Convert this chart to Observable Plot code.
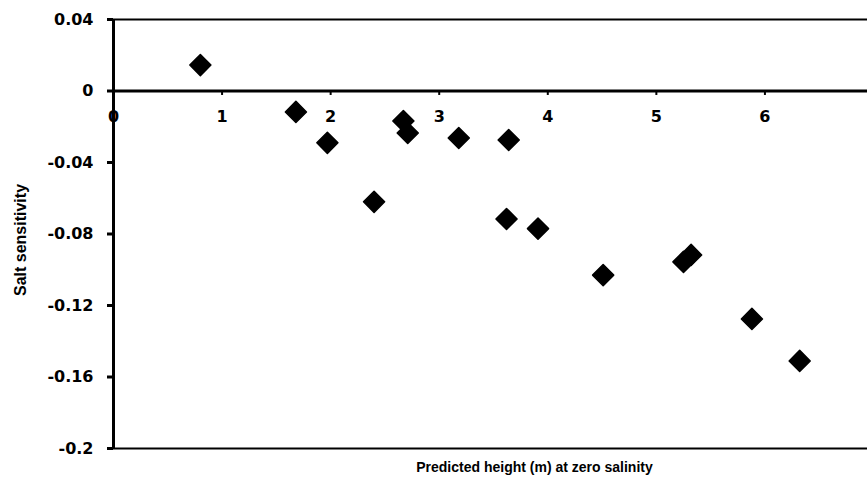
<!DOCTYPE html>
<html>
<head>
<meta charset="utf-8">
<script src="https://cdn.jsdelivr.net/npm/d3@7"></script>
<script src="https://cdn.jsdelivr.net/npm/@observablehq/plot@0.6"></script>
<style>
  html, body { margin: 0; padding: 0; background: white; }
  #wrap { width: 867px; height: 485px; overflow: hidden; }
</style>
</head>
<body>
<div id="wrap"></div>
<script>
// Data
const heights = [0.80, 1.68, 1.97, 2.40, 2.67, 2.71, 3.18, 3.62, 3.64, 3.91, 4.51, 5.25, 5.32, 5.88, 6.32];
const sensitivity = [0.0145, -0.0117, -0.029, -0.062, -0.0168, -0.0235, -0.0263, -0.0716, -0.0274, -0.077, -0.103, -0.0956, -0.0917, -0.1275, -0.151];
const xTicks = [0, 1, 2, 3, 4, 5, 6, 7];
const yTicks = [0.04, 0, -0.04, -0.08, -0.12, -0.16, -0.2];
const xLabel = "Predicted height (m) at zero salinity";
const yLabel = "Salt sensitivity";

const points = heights.map((h, i) => ({h, s: sensitivity[i]}));
const tickFont = {fontFamily: "DejaVu Sans", fontWeight: "bold", fontSize: 16};

const chart = Plot.plot({
  width: 880,
  height: 485,
  marginLeft: 113,
  marginRight: 7,
  marginTop: 19,
  marginBottom: 37,
  style: "max-width: none; background: white; color: black;",
  x: {domain: [0, 7], axis: null},
  y: {domain: [-0.2, 0.04], axis: null},
  marks: [
    Plot.ruleY([yTicks[0], yTicks[yTicks.length - 1]], {stroke: "black", strokeWidth: 2}),
    Plot.ruleY([0], {stroke: "black", strokeWidth: 3}),
    Plot.ruleX([0], {stroke: "black", strokeWidth: 3}),
    Plot.axisY(yTicks, {
      tickSize: 6, tickPadding: 14, strokeWidth: 3, label: null,
      tickFormat: d => String(+d.toFixed(2)),
      ...tickFont
    }),
    Plot.ruleX(xTicks.filter(d => d > 0), {x: d => d, y1: 0, y2: -0.0025, stroke: "black", strokeWidth: 2}),
    Plot.text(xTicks, {x: d => d, y: () => 0, dy: 26, text: d => String(d), fill: "black", ...tickFont}),
    Plot.dot(points, {
      x: "h", y: "s", symbol: "diamond2", r: 9.5,
      fill: "black", stroke: "black", strokeWidth: 1.5, strokeLinejoin: "round"
    }),
    Plot.text([xLabel], {
      text: d => d, frameAnchor: "bottom", lineAnchor: "middle", textAnchor: "middle", dx: 41, dy: 19,
      fontFamily: "Liberation Sans", fontWeight: "bold", fontSize: 14, fill: "black"
    }),
    Plot.text([yLabel], {
      text: d => d, frameAnchor: "left", textAnchor: "middle", lineAnchor: "middle", rotate: -90, dx: -93, dy: 6,
      fontFamily: "Liberation Sans", fontWeight: "bold", fontSize: 16, fill: "black"
    })
  ]
});
document.getElementById("wrap").appendChild(chart);
</script>
</body>
</html>
